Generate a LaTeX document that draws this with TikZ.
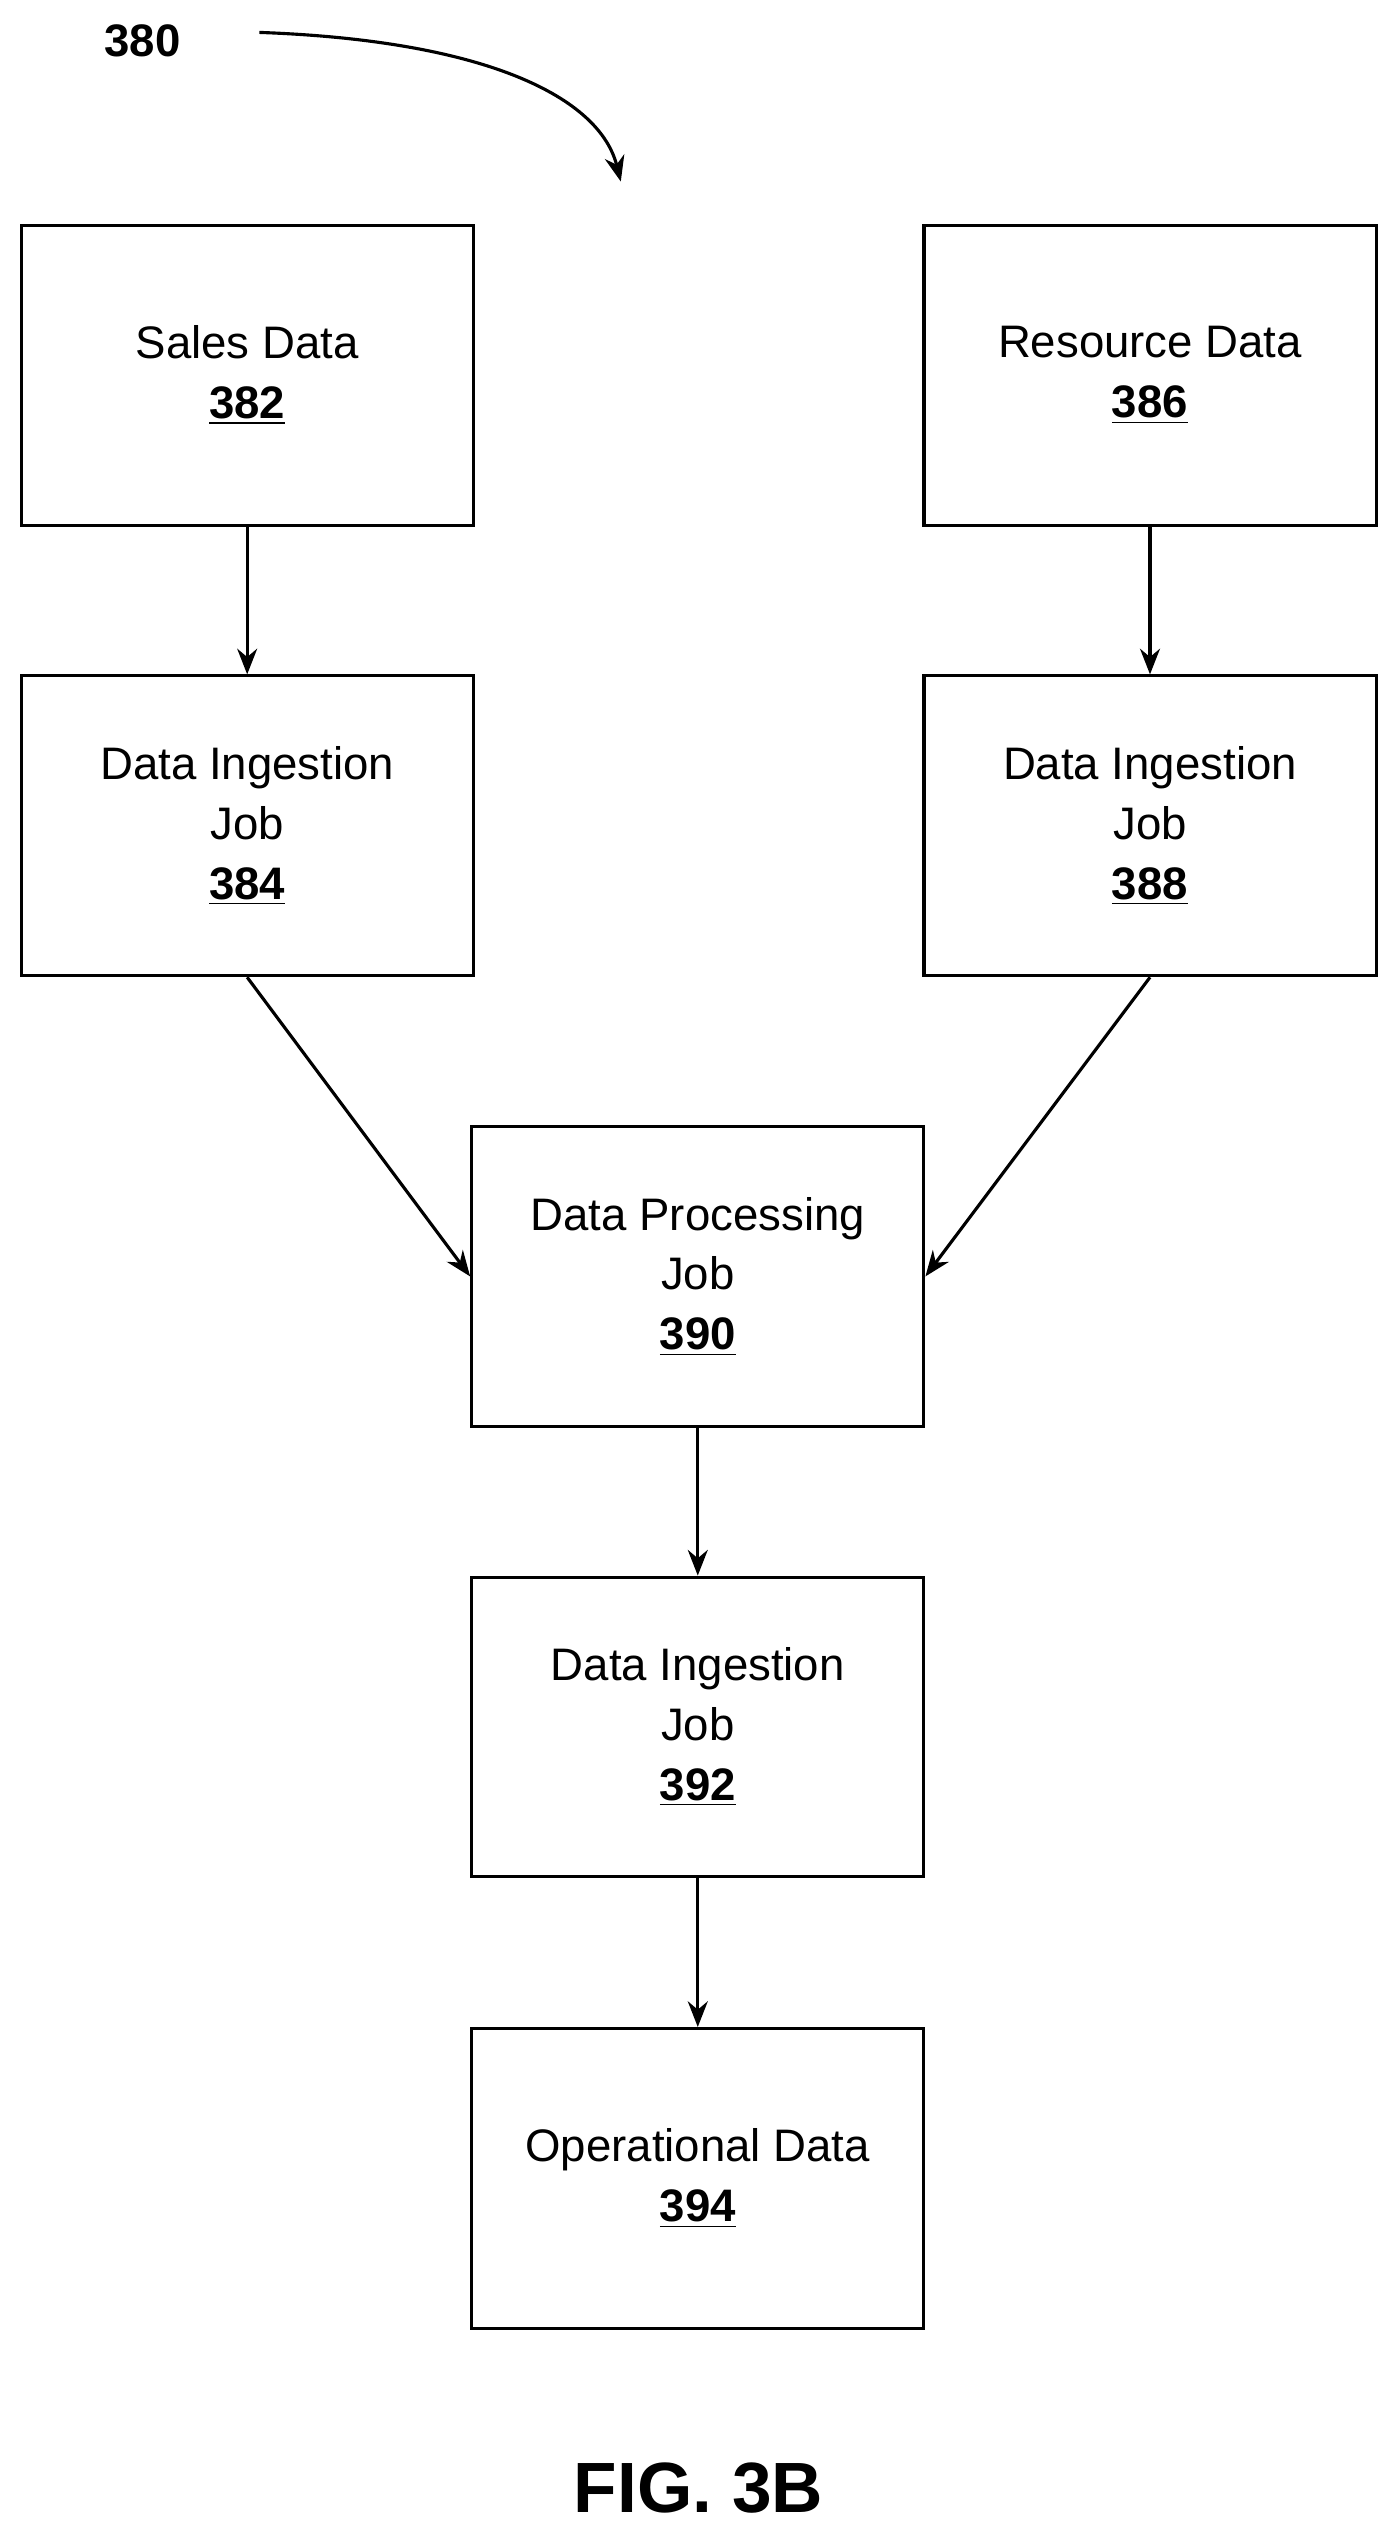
\documentclass[tikz,border=0pt]{standalone}
\usepackage{fontspec}
\setmainfont{Liberation Sans}
\usetikzlibrary{arrows.meta}
\begin{document}
\begin{tikzpicture}[x=0.02cm,y=-0.02cm,
    line width=1.1pt,>={Stealth[length=9pt,width=7pt]},
    box/.style={draw,minimum width=5.58cm,minimum height=3.7cm,align=center,
      font=\fontsize{16}{21}\selectfont}]
    \useasboundingbox (0,0) rectangle (860,1564);

    % Define boxes
    \node[box] (sales) at (152.5,231.5) {Sales Data\\\textbf{\underline{382}}};
    \node[box] (res) at (709.5,231.5) {Resource Data\\\textbf{\underline{386}}};
    \node[box] (ing1) at (152.5,509.5) {Data Ingestion\\Job\\\textbf{\underline{384}}};
    \node[box] (ing2) at (709.5,509.5) {Data Ingestion\\Job\\\textbf{\underline{388}}};
    \node[box] (proc) at (430.5,787.5) {Data Processing\\Job\\\textbf{\underline{390}}};
    \node[box] (ing3) at (430.5,1065.5) {Data Ingestion\\Job\\\textbf{\underline{392}}};
    \node[box] (oper) at (430.5,1344) {Operational Data\\\textbf{\underline{394}}};

    % Labels
    \node[font=\fontsize{16}{19}\selectfont\bfseries] (fig) at (88,25) {380};
    \node[font=\fontsize{25}{30}\selectfont\bfseries] (title) at (431,1535) {FIG. 3B};
    \coordinate (start) at (160,20);
    \coordinate (tip) at (383,112);

    % Connectors
    \draw[->] (start) .. controls (300,25) and (370,60) .. (tip);
    \draw[->] (sales) -- (ing1);
    \draw[->] (res) -- (ing2);
    \draw[->] (ing1.south) -- (proc.west);
    \draw[->] (ing2.south) -- (proc.east);
    \draw[->] (proc) -- (ing3);
    \draw[->] (ing3) -- (oper);
\end{tikzpicture}
\end{document}
